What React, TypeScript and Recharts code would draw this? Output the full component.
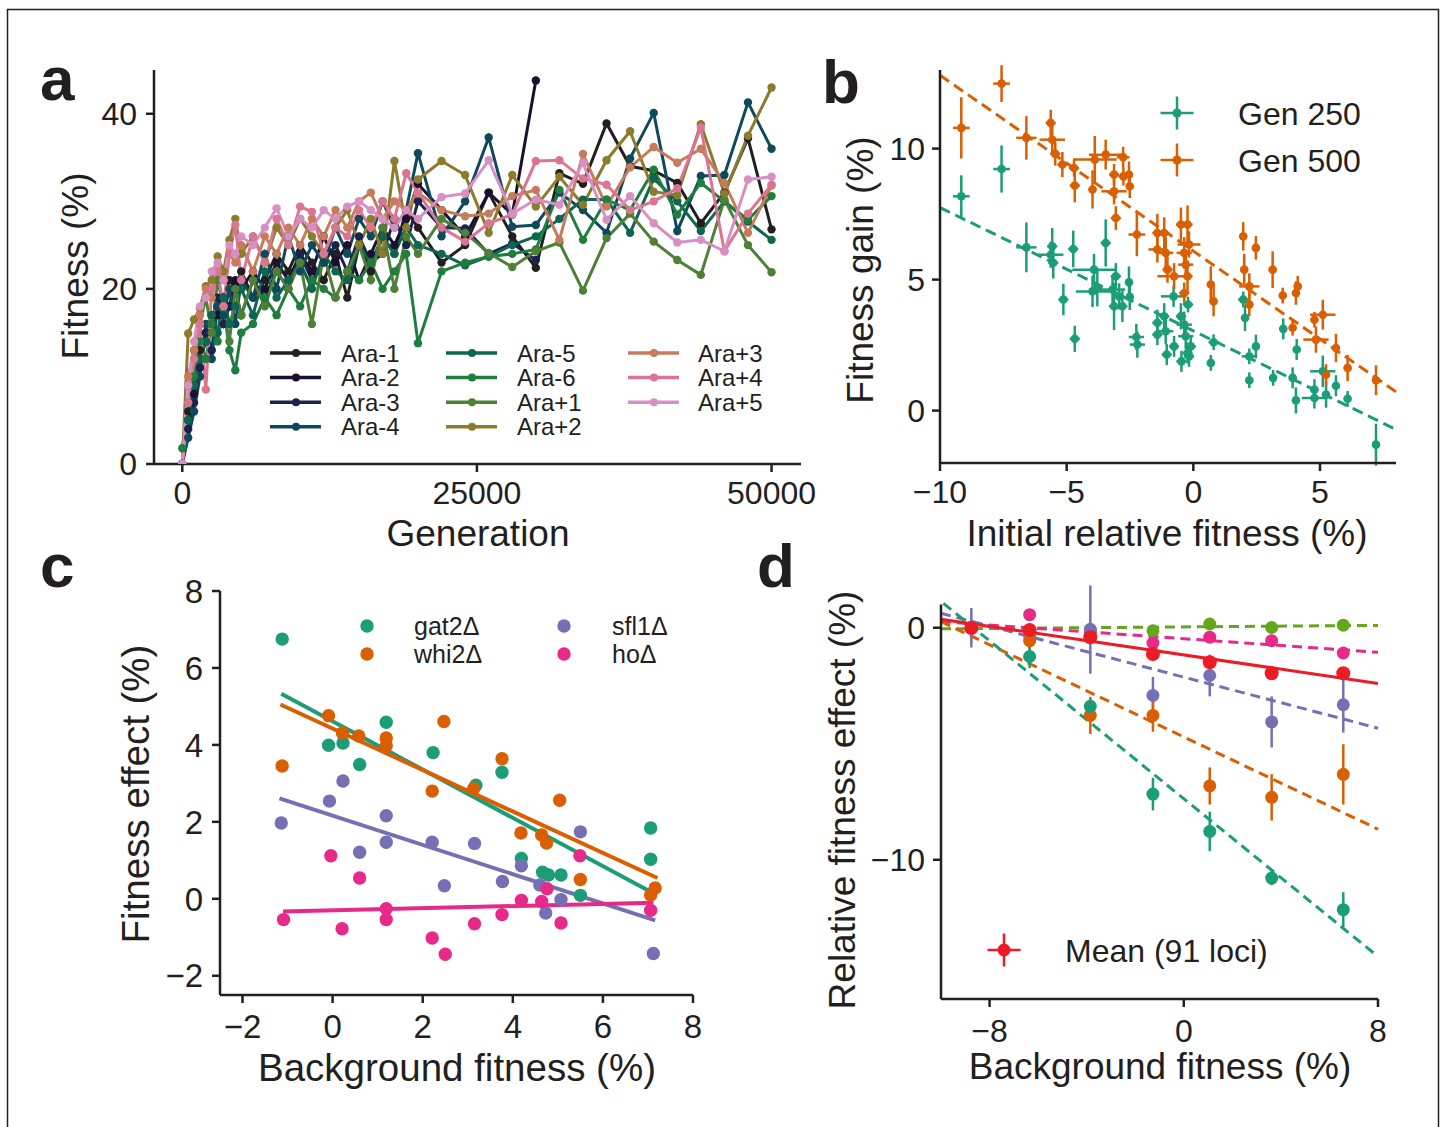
import React from 'react';
import { LineChart, Line, XAxis, YAxis, ScatterChart, Scatter, ErrorBar, ReferenceLine } from 'recharts';

const FONT = '"Liberation Sans", Arial, Helvetica, sans-serif';
const INK = '#231f20';

// ---- panel a: fitness trajectories ----
const generations = [
  0, 500, 1000, 1500, 2000, 2500, 3000, 3500, 4000, 4500, 5000,
  6000, 7000, 8000, 9000, 10000, 11000, 12000, 13000, 14000, 15000, 16000, 17000, 18000, 19000, 20000,
  22000, 24000, 26000, 28000, 30000, 32000, 34000, 36000, 38000, 40000, 42000, 44000, 46000, 48000, 50000,
];
const araNames = ['Ara-1', 'Ara-2', 'Ara-3', 'Ara-4', 'Ara-5', 'Ara-6', 'Ara+1', 'Ara+2', 'Ara+3', 'Ara+4', 'Ara+5'];
const araColors = ['#231f20', '#1b1030', '#1a2250', '#0f4a5c', '#0f6650', '#1f7d3d', '#4f8038', '#8a7b2d', '#c67c5c', '#db7590', '#d890c4'];
const ara1 = [0, 6, 9, 13, 15, 17, 18, 19, 21, 20, 22, 19, 21, 24, 22, 25, 23, 21, 24, 19, 25, 22, 26, 24, 29, 27, 23, 25, 31, 26, 22.4, 33.2, 32.0, 38.9, 34.0, 33.5, 32.1, 27.5, 31, 37.2, 26.8];
const ara2 = [0, 5, 8, 12, 14, 16, 17, 19, 18, 21, 20, 22, 20, 23, 21, 24, 22, 26, 23, 25, 21, 24, 27, 25, 28, 32, 29, 26, 31, 28.5, 43.8];
const ara3 = [0, 4, 7, 11, 15, 13, 19, 16, 18, 20, 17, 21, 19, 22, 20, 24, 21, 23, 25, 22, 26, 23, 24, 28, 25, 30, 27, 26.9, 24, 25.2, 23.3];
const ara4 = [0, 3, 6, 10, 16, 12, 18, 17, 20, 16, 21, 19, 24, 20, 26, 22, 25, 23, 27, 24, 28, 26, 30, 27, 29, 35.5, 26, 30, 37.3, 27.1, 27.3, 31, 29, 26.4, 34.9, 40.1, 26.6, 32.9, 33.0, 41.3, 36.0];
const ara5 = [0, 5, 9, 12, 14, 17, 15, 19, 16, 18, 20, 17, 22, 19, 21, 23, 20, 24, 22, 21, 25, 23, 26, 24, 27, 25, 24, 22.7, 23.7, 25, 26.0, 28, 30.2, 30.2, 26.4, 32.6, 30.0, 26.6, 30.0, 27.7, 25.6];
const ara6 = [1.8, 7, 10, 14, 12, 16, 14, 18, 13, 10.7, 15, 16, 19, 17, 20, 18, 21, 20, 19, 22, 21, 23, 20, 22, 24, 13.8, 22, 23, 23.7, 24, 24.5, 31.3, 25.6, 30.2, 29, 33.6, 28.5, 32.1, 30.0, 27.9, 30.6];
const araP1 = [0, 9, 13, 16, 19, 15, 21, 18, 14, 20, 17, 21, 18, 22, 20, 23, 16, 24, 19, 22, 25, 21, 27, 20, 26, 24, 28, 26.4, 24.1, 22.5, 24.3, 25.3, 19.8, 25.8, 28.6, 25.4, 23.3, 21.6, 30.2, 25.0, 21.9];
const araP2 = [0, 14.9, 16.5, 17.8, 20.3, 21, 23.7, 22, 25.6, 28.0, 24, 26, 23, 27, 25, 28, 26, 24, 27, 29, 25, 28, 24, 34.6, 27, 32.5, 34.6, 33.0, 26.4, 33.0, 29.4, 32.8, 29.6, 34.7, 38.0, 31.1, 30.7, 38.8, 30.9, 37.5, 43.0];
const araP3 = [0, 10, 13, 17, 20, 19, 22, 21, 24, 23, 25, 22, 26, 24, 27, 25, 28, 26, 29, 27, 30, 31, 28, 30, 29, 31, 29, 28.3, 28.6, 30.6, 31.3, 25.6, 35.4, 29.4, 33.9, 36.2, 34.4, 36.0, 32.1, 26.4, 31.8];
const araP4 = [0, 7, 12, 16, 8.5, 20, 22, 18, 24, 27.3, 21, 26, 23, 28, 25, 29.4, 28.8, 24, 27, 26, 29, 27, 30, 28, 33.2, 31, 27, 25.4, 27.5, 28.5, 34.6, 34.7, 32.6, 31.9, 29.0, 30.0, 31.5, 38.4, 24.3, 28.6, 31.9];
const araP5 = [0, 9, 14, 18, 19, 22, 23, 21, 25, 24, 26, 25, 27, 29.2, 26, 28, 27, 29, 28, 29.4, 30, 29, 28, 27, 29, 28, 30.5, 30.9, 34.7, 28.6, 30.2, 29.6, 34.4, 27.9, 30.6, 27.5, 25.3, 25.6, 24.3, 32.5, 32.8];
const araValues = [ara1, ara2, ara3, ara4, ara5, ara6, araP1, araP2, araP3, araP4, araP5];

// ---- panel b: fitness gain vs initial fitness, [x, y, xerr, yerr] ----
const gen250 = [
  [-9.16, 8.18, 0.33, 0.8], [-7.57, 9.22, 0.33, 0.9], [-6.59, 6.23, 0.4, 0.95], [-5.57, 6.27, 0.2, 0.7],
  [-5.63, 5.95, 0.5, 0.5], [-5.53, 5.64, 0.2, 0.6], [-5.13, 4.24, 0.2, 0.6], [-4.74, 6.17, 0.2, 0.7],
  [-4.68, 2.74, 0.2, 0.5], [-3.92, 5.38, 0.86, 0.6], [-3.98, 4.55, 0.66, 0.6], [-3.79, 4.68, 0.2, 0.7],
  [-3.46, 6.4, 0.2, 0.9], [-3.19, 4.62, 0.5, 0.5], [-3.13, 3.98, 0.2, 0.9], [-3.06, 5.13, 0.2, 0.5],
  [-2.93, 4.36, 0.2, 0.5], [-2.8, 3.98, 0.2, 0.6], [-2.54, 4.9, 0.15, 0.6], [-2.51, 4.34, 0.15, 0.5],
  [-2.25, 2.81, 0.3, 0.5], [-2.21, 2.52, 0.3, 0.5], [-1.42, 3.35, 0.2, 0.5], [-1.42, 2.9, 0.2, 0.4],
  [-1.15, 3.6, 0.2, 0.5], [-1.09, 3.03, 0.3, 0.5], [-1.05, 2.14, 0.2, 0.4], [-0.78, 4.36, 0.5, 0.4],
  [-0.76, 2.45, 0.2, 0.4], [-0.49, 3.6, 0.2, 0.5], [-0.47, 1.88, 0.2, 0.4], [-0.36, 3.28, 0.3, 0.5],
  [-0.3, 2.84, 0.3, 0.5], [-0.23, 2.2, 0.2, 0.4], [-0.21, 4.05, 0.2, 0.3], [-0.17, 2.07, 0.2, 0.4],
  [-0.1, 2.45, 0.2, 0.4], [0.8, 2.61, 0.2, 0.3], [0.69, 1.82, 0.15, 0.3], [1.97, 4.24, 0.2, 0.3],
  [2.04, 3.54, 0.15, 0.5], [2.21, 2.07, 0.3, 0.3], [2.21, 1.16, 0.15, 0.3], [2.47, 2.45, 0.15, 0.45],
  [3.15, 1.25, 0.15, 0.3], [3.55, 3.12, 0.15, 0.4], [3.92, 1.25, 0.15, 0.4], [4.05, 0.39, 0.15, 0.5],
  [4.08, 2.33, 0.15, 0.4], [4.78, 0.8, 0.15, 0.4], [4.78, 0.48, 0.5, 0.4], [5.11, 1.5, 0.5, 0.6],
  [5.24, 0.61, 0.15, 0.5], [5.63, 0.95, 0.15, 0.4], [6.09, 0.45, 0.15, 0.3], [7.21, -1.3, 0.15, 0.8],
];
const gen500 = [
  [-9.16, 10.79, 0.33, 1.17], [-7.57, 12.48, 0.33, 0.7], [-6.59, 10.41, 0.4, 0.83], [-5.63, 10.98, 0.2, 0.5],
  [-5.57, 10.34, 0.5, 0.57], [-5.45, 9.8, 0.2, 0.45], [-5.17, 9.39, 0.2, 0.48], [-4.71, 9.26, 0.2, 0.32],
  [-4.68, 8.59, 0.2, 0.64], [-3.98, 8.44, 0.15, 0.73], [-3.89, 9.58, 0.86, 0.9], [-3.46, 9.77, 0.66, 0.57],
  [-3.13, 9.01, 0.2, 0.4], [-3.13, 8.37, 0.5, 0.5], [-3.06, 7.35, 0.2, 0.45], [-2.77, 9.67, 0.25, 0.4],
  [-2.76, 8.94, 0.2, 0.35], [-2.54, 9.01, 0.15, 0.5], [-2.51, 8.56, 0.15, 0.45], [-2.23, 6.72, 0.33, 0.83],
  [-1.42, 6.78, 0.2, 0.73], [-1.42, 6.15, 0.35, 0.5], [-1.15, 6.78, 0.2, 0.6], [-1.09, 6.02, 0.3, 0.6],
  [-1.02, 5.38, 0.2, 0.5], [-0.76, 5.13, 0.66, 0.5], [-0.49, 7.1, 0.2, 0.65], [-0.36, 6.02, 0.3, 0.6],
  [-0.3, 5.57, 0.3, 0.55], [-0.23, 7.1, 0.2, 0.73], [-0.17, 6.34, 0.45, 0.5], [-0.23, 5.13, 0.2, 0.6],
  [-0.36, 4.49, 0.2, 0.4], [0.69, 4.81, 0.15, 0.7], [0.8, 4.17, 0.15, 0.57], [1.97, 6.65, 0.15, 0.54],
  [2.01, 5.38, 0.15, 0.6], [2.21, 4.74, 0.4, 0.5], [2.21, 4.05, 0.15, 0.45], [2.47, 6.21, 0.15, 0.45],
  [3.13, 5.38, 0.15, 0.7], [3.53, 4.39, 0.15, 0.3], [3.92, 3.16, 0.15, 0.3], [4.05, 4.49, 0.15, 0.45],
  [4.12, 4.74, 0.15, 0.4], [4.78, 3.47, 0.15, 0.3], [4.84, 2.71, 0.5, 0.5], [5.11, 3.66, 0.5, 0.57],
  [5.24, 1.37, 0.15, 0.4], [5.63, 2.39, 0.15, 0.54], [6.09, 1.63, 0.15, 0.5], [7.21, 1.16, 0.15, 0.57],
];
const fit250 = [[-10, 7.75], [8, -0.72]];
const fit500 = [[-10, 12.8], [8, 0.72]];

// ---- panel c: deletion effects, [x, y] ----
const gat2 = [[-1.12, 6.75], [-0.09, 3.99], [0.23, 4.05], [0.6, 3.49], [1.19, 4.59], [2.23, 3.8], [3.18, 2.95], [3.76, 3.29], [4.19, 1.05], [4.66, 0.69], [4.79, 0.62], [5.07, 0.62], [5.5, 0.09], [7.06, 1.84], [7.06, 1.03]];
const whi2 = [[-1.12, 3.45], [-0.09, 4.76], [0.22, 4.31], [0.58, 4.23], [1.19, 4.18], [1.19, 3.98], [2.21, 2.8], [2.47, 4.61], [3.13, 2.86], [3.76, 3.64], [4.18, 1.71], [4.64, 1.66], [4.75, 1.45], [5.04, 2.56], [5.5, 0.5], [7.06, 0.1], [7.16, 0.28]];
const sfl1 = [[-1.14, 1.97], [-0.07, 2.54], [0.23, 3.06], [0.6, 1.21], [1.19, 2.16], [1.19, 1.47], [2.21, 1.47], [2.48, 0.34], [3.15, 1.44], [3.77, 0.45], [4.19, 0.86], [4.6, 0.36], [4.73, -0.37], [5.07, -0.02], [5.5, 1.74], [7.12, -1.42]];
const ho = [[-1.09, -0.54], [-0.04, 1.12], [0.21, -0.78], [0.6, 0.54], [1.19, -0.26], [1.19, -0.54], [2.21, -1.02], [2.5, -1.44], [3.15, -0.65], [3.76, -0.41], [4.19, -0.04], [4.64, -0.07], [4.76, 0.26], [5.07, -0.63], [5.49, 1.12], [7.06, -0.3]];
const fitGat2 = [[-1.14, 5.33], [7.08, 0.17]];
const fitWhi2 = [[-1.16, 5.05], [7.21, 0.54]];
const fitSfl1 = [[-1.18, 2.61], [7.16, -0.56]];
const fitHo = [[-1.1, -0.33], [7.12, -0.1]];

// ---- panel d: relative effects vs background ----
const backgrounds = [-8.75, -6.35, -3.85, -1.27, 1.07, 3.62, 6.57];
const dTeal = [0, -1.24, -3.39, -7.17, -8.78, -10.79, -12.15];
const dTealErr = [0.2, 0.5, 0.3, 0.7, 0.85, 0.3, 0.75];
const dOrange = [0, -0.56, -3.78, -3.78, -6.82, -7.31, -6.32];
const dOrangeErr = [0.2, 0.4, 0.8, 0.7, 0.8, 1.0, 1.3];
const dPurple = [0, -0.34, -0.08, -2.92, -2.06, -4.06, -3.32];
const dPurpleErr = [0.85, 0.3, 1.9, 0.8, 0.9, 1.1, 1.2];
const dPink = [0, 0.56, -0.2, -0.66, -0.41, -0.56, -1.09];
const dPinkErr = [0.15, 0.15, 0.15, 0.15, 0.15, 0.15, 0.15];
const dGreen = [0, -0.13, -0.08, -0.13, 0.16, 0.01, 0.11];
const dGreenErr = [0.15, 0.15, 0.15, 0.15, 0.15, 0.15, 0.15];
const dMean = [-0.01, -0.1, -0.41, -1.13, -1.49, -1.96, -1.96];
const dMeanErr = [0.1, 0.1, 0.1, 0.1, 0.1, 0.1, 0.1];
const fitDTeal = [[-9.9, 1.05], [8, -14.17]];
const fitDOrange = [[-10, 0.26], [8, -8.68]];
const fitDPurple = [[-10, 0.62], [8, -4.33]];
const fitDPink = [[-10, 0.26], [8, -1.06]];
const fitDGreen = [[-10, -0.05], [8, 0.1]];
const fitDMean = [[-10, 0.36], [8, -2.4]];

const C_TEAL = '#1b9e77';
const C_ORANGE = '#d95f02';
const C_PURPLE = '#7570b3';
const C_PINK = '#e7298a';
const C_GREEN = '#66a61e';
const C_RED = '#ec1c24';

const aRows = generations.map((g, i) => {
  const row: Record<string, number> = { gen: g };
  araNames.forEach((n, k) => {
    if (i < araValues[k].length) row[n] = araValues[k][i];
  });
  return row;
});

const toXYE = (arr: number[][]) => arr.map(([x, y, ex, ey]) => ({ x, y, ex, ey }));
const toXY = (arr: number[][]) => arr.map(([x, y]) => ({ x, y }));
const toD = (ys: number[], errs: number[]) => backgrounds.map((x, i) => ({ x, y: ys[i], ey: errs[i] }));
const seg = (f: number[][]) => [{ x: f[0][0], y: f[0][1] }, { x: f[1][0], y: f[1][1] }];

const minus = (v: number) => String(v).replace('-', '\u2212');
const axisStyle = { stroke: INK, strokeWidth: 2.5 };
const tickStyle = { fill: INK, fontSize: 32, fontFamily: FONT };
const tickStyleC = { fill: INK, fontSize: 33, fontFamily: FONT };

const dot = (r: number, color: string) => (props: any) =>
  props.cx == null ? <g /> : <circle cx={props.cx} cy={props.cy} r={r} fill={color} />;

const abs = (left: number, top: number): React.CSSProperties => ({ position: 'absolute', left, top });

const PanelA = () => (
  <div style={abs(20, 40)}>
    <LineChart width={821} height={504} data={aRows} margin={{ top: 30, right: 40, bottom: 0, left: 0 }}>
      <XAxis dataKey="gen" type="number" domain={[-2400, 52500]} ticks={[0, 25000, 50000]} interval={0}
        height={80} tickSize={8} tickMargin={9} axisLine={axisStyle} tickLine={axisStyle} tick={tickStyle} allowDataOverflow />
      <YAxis type="number" domain={[0, 45]} ticks={[0, 20, 40]} interval={0} width={134}
        tickSize={8} tickMargin={9} axisLine={axisStyle} tickLine={axisStyle} tick={tickStyle} allowDataOverflow />
      {araNames.map((n, k) => (
        <Line key={n} dataKey={n} stroke={araColors[k]} strokeWidth={3} isAnimationActive={false}
          dot={{ r: 4.2, fill: araColors[k], stroke: araColors[k], strokeWidth: 0 }} activeDot={false} />
      ))}
    </LineChart>
  </div>
);

const PanelB = () => (
  <div style={abs(880, 40)}>
    <ScatterChart width={526} height={503} margin={{ top: 30, right: 10, bottom: 0, left: 0 }}>
      <XAxis dataKey="x" type="number" domain={[-10, 8]} ticks={[-10, -5, 0, 5]} interval={0} tickFormatter={minus}
        height={80} tickSize={8} tickMargin={9} axisLine={axisStyle} tickLine={axisStyle} tick={tickStyle} allowDataOverflow />
      <YAxis dataKey="y" type="number" domain={[-2, 13]} ticks={[0, 5, 10]} interval={0} width={60}
        tickSize={8} tickMargin={7} axisLine={axisStyle} tickLine={axisStyle} tick={tickStyle} allowDataOverflow />
      <ReferenceLine segment={seg(fit250)} stroke={C_TEAL} strokeWidth={3} strokeDasharray="11 6" ifOverflow="visible" />
      <ReferenceLine segment={seg(fit500)} stroke={C_ORANGE} strokeWidth={3} strokeDasharray="11 6" ifOverflow="visible" />
      <Scatter data={toXYE(gen250)} fill={C_TEAL} shape={dot(4.3, C_TEAL)} isAnimationActive={false}>
        <ErrorBar dataKey="ey" direction="y" width={0} stroke={C_TEAL} strokeWidth={2.5} isAnimationActive={false} />
        <ErrorBar dataKey="ex" direction="x" width={0} stroke={C_TEAL} strokeWidth={2.5} isAnimationActive={false} />
      </Scatter>
      <Scatter data={toXYE(gen500)} fill={C_ORANGE} shape={dot(4.3, C_ORANGE)} isAnimationActive={false}>
        <ErrorBar dataKey="ey" direction="y" width={0} stroke={C_ORANGE} strokeWidth={2.5} isAnimationActive={false} />
        <ErrorBar dataKey="ex" direction="x" width={0} stroke={C_ORANGE} strokeWidth={2.5} isAnimationActive={false} />
      </Scatter>
    </ScatterChart>
  </div>
);

const PanelC = () => (
  <div style={abs(150, 560)}>
    <ScatterChart width={563} height={505} margin={{ top: 31, right: 20, bottom: 0, left: 0 }}>
      <XAxis dataKey="x" type="number" domain={[-2.5, 8]} ticks={[-2, 0, 2, 4, 6, 8]} interval={0} tickFormatter={minus}
        height={70} tickSize={8} tickMargin={12} axisLine={axisStyle} tickLine={axisStyle} tick={tickStyleC} allowDataOverflow />
      <YAxis dataKey="y" type="number" domain={[-2.5, 8]} ticks={[-2, 0, 2, 4, 6, 8]} interval={0} tickFormatter={minus} width={70}
        tickSize={8} tickMargin={9} axisLine={axisStyle} tickLine={axisStyle} tick={tickStyleC} allowDataOverflow />
      <Scatter data={toXY(gat2)} fill={C_TEAL} shape={dot(6.7, C_TEAL)} isAnimationActive={false} />
      <Scatter data={toXY(whi2)} fill={C_ORANGE} shape={dot(6.7, C_ORANGE)} isAnimationActive={false} />
      <Scatter data={toXY(sfl1)} fill={C_PURPLE} shape={dot(6.7, C_PURPLE)} isAnimationActive={false} />
      <Scatter data={toXY(ho)} fill={C_PINK} shape={dot(6.7, C_PINK)} isAnimationActive={false} />
      <ReferenceLine segment={seg(fitGat2)} stroke={C_TEAL} strokeWidth={4} ifOverflow="visible" />
      <ReferenceLine segment={seg(fitWhi2)} stroke={C_ORANGE} strokeWidth={4} ifOverflow="visible" />
      <ReferenceLine segment={seg(fitSfl1)} stroke={C_PURPLE} strokeWidth={4} ifOverflow="visible" />
      <ReferenceLine segment={seg(fitHo)} stroke={C_PINK} strokeWidth={4} ifOverflow="visible" />
    </ScatterChart>
  </div>
);

const dSeries = [
  { ys: dGreen, errs: dGreenErr, color: C_GREEN, fit: fitDGreen, dash: '10 6', r: 6.5 },
  { ys: dPink, errs: dPinkErr, color: C_PINK, fit: fitDPink, dash: '10 6', r: 6.5 },
  { ys: dPurple, errs: dPurpleErr, color: C_PURPLE, fit: fitDPurple, dash: '10 6', r: 6.5 },
  { ys: dOrange, errs: dOrangeErr, color: C_ORANGE, fit: fitDOrange, dash: '10 6', r: 6.5 },
  { ys: dTeal, errs: dTealErr, color: C_TEAL, fit: fitDTeal, dash: '10 6', r: 6.5 },
  { ys: dMean, errs: dMeanErr, color: C_RED, fit: fitDMean, dash: undefined, r: 7 },
];

const PanelD = () => (
  <div style={abs(850, 570)}>
    <ScatterChart width={548} height={499} margin={{ top: 34.5, right: 20, bottom: 0, left: 0 }}>
      <XAxis dataKey="x" type="number" domain={[-10, 8]} ticks={[-8, 0, 8]} interval={0} tickFormatter={minus}
        height={70} tickSize={8} tickMargin={12} axisLine={axisStyle} tickLine={axisStyle} tick={tickStyle} allowDataOverflow />
      <YAxis dataKey="y" type="number" domain={[-16, 1]} ticks={[-10, 0]} interval={0} tickFormatter={minus} width={91}
        tickSize={8} tickMargin={8} axisLine={axisStyle} tickLine={axisStyle} tick={tickStyle} allowDataOverflow />
      {dSeries.map((s, i) => (
        <ReferenceLine key={'f' + i} segment={seg(s.fit)} stroke={s.color} strokeWidth={3}
          strokeDasharray={s.dash} ifOverflow="visible" />
      ))}
      {dSeries.map((s, i) => (
        <Scatter key={'s' + i} data={toD(s.ys, s.errs)} fill={s.color} shape={dot(s.r, s.color)} isAnimationActive={false}>
          <ErrorBar dataKey="ey" direction="y" width={0} stroke={s.color} strokeWidth={2.5} isAnimationActive={false} />
        </Scatter>
      ))}
    </ScatterChart>
  </div>
);

const Overlay = () => {
  const legA = araNames.map((n, k) => {
    const col = Math.floor(k / 4);
    const row = k % 4;
    const lx = [270, 446, 628][col];
    const tx = [341, 517, 698][col];
    const cy = 353 + row * 24.6;
    return (
      <g key={n}>
        <line x1={lx} x2={lx + 51} y1={cy} y2={cy} stroke={araColors[k]} strokeWidth={3.5} />
        <circle cx={lx + 26} cy={cy} r={4} fill={araColors[k]} />
        <text x={tx} y={cy + 8.6} fontSize={24}>{n}</text>
      </g>
    );
  });
  const cross = (x: number, y: number, color: string, r: number) => (
    <g>
      <line x1={x - 16.5} x2={x + 16.5} y1={y} y2={y} stroke={color} strokeWidth={2.5} />
      <line x1={x} x2={x} y1={y - 16.5} y2={y + 16.5} stroke={color} strokeWidth={2.5} />
      <circle cx={x} cy={y} r={r} fill={color} />
    </g>
  );
  const legC = [
    { x: 367, y: 626, tx: 414, c: C_TEAL, t: 'gat2Δ' },
    { x: 367, y: 654, tx: 414, c: C_ORANGE, t: 'whi2Δ' },
    { x: 564, y: 626, tx: 612, c: C_PURPLE, t: 'sfl1Δ' },
    { x: 564, y: 654, tx: 612, c: C_PINK, t: 'hoΔ' },
  ];
  return (
    <svg width={1445} height={1127} style={{ position: 'absolute', left: 0, top: 0, pointerEvents: 'none' }}
      fontFamily={FONT} fill={INK}>
      <path d="M7.5,1127 V9.5 H1438.5 V1127" fill="none" stroke={INK} strokeWidth={1.5} />
      <g fontSize={62} fontWeight="bold">
        <text x={40} y={100}>a</text>
        <text x={822} y={103}>b</text>
        <text x={40} y={587}>c</text>
        <text x={757} y={587}>d</text>
      </g>
      <g fontSize={37}>
        <text x={478} y={546} textAnchor="middle">Generation</text>
        <text x={1167} y={546} textAnchor="middle">Initial relative fitness (%)</text>
        <text x={1160} y={1079} textAnchor="middle">Background fitness (%)</text>
        <text x={75} y={266 + 13.2} textAnchor="middle" transform="rotate(-90 75 266)">Fitness (%)</text>
        <text x={860} y={270 + 13.2} textAnchor="middle" transform="rotate(-90 860 270)">Fitness gain (%)</text>
        <text x={842} y={800 + 13.4} textAnchor="middle" transform="rotate(-90 842 800)">Relative fitness effect (%)</text>
      </g>
      <g fontSize={38.5}>
        <text x={457} y={1081} textAnchor="middle">Background fitness (%)</text>
        <text x={135} y={794 + 13.8} textAnchor="middle" transform="rotate(-90 135 794)">Fitness effect (%)</text>
      </g>
      {legA}
      {cross(1177, 113, C_TEAL, 4.5)}
      {cross(1177, 160, C_ORANGE, 4.5)}
      <text x={1238} y={124.5} fontSize={32}>Gen 250</text>
      <text x={1238} y={171.5} fontSize={32}>Gen 500</text>
      {legC.map((l) => (
        <g key={l.t}>
          <circle cx={l.x} cy={l.y} r={6.7} fill={l.c} />
          <text x={l.tx} y={l.y + 9} fontSize={25}>{l.t}</text>
        </g>
      ))}
      {cross(1004, 950, C_RED, 6.5)}
      <text x={1065} y={961.5} fontSize={32}>Mean (91 loci)</text>
    </svg>
  );
};

export default function App() {
  return (
    <div style={{ position: 'absolute', left: 0, top: 0, width: 1445, height: 1127, background: '#fff', fontFamily: FONT }}>
      <PanelA />
      <PanelB />
      <PanelC />
      <PanelD />
      <Overlay />
    </div>
  );
}
